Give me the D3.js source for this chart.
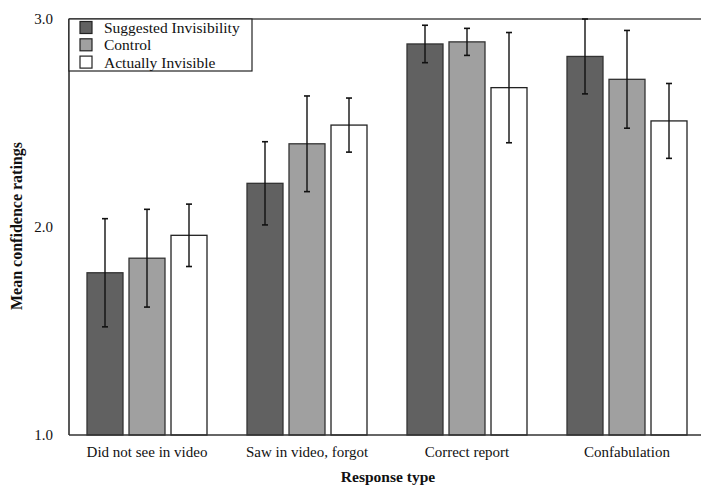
<!DOCTYPE html>
<html>
<head>
<meta charset="utf-8">
<script src="https://cdn.jsdelivr.net/npm/d3@7"></script>
<style>
  html, body { margin: 0; padding: 0; background: #fff; }
  svg text { font-family: "Liberation Serif", "Times New Roman", serif; fill: #111; }
</style>
</head>
<body>
<svg id="chart" width="701" height="486"></svg>
<script>
const categories = ["Did not see in video", "Saw in video, forgot", "Correct report", "Confabulation"];
const seriesNames = ["Suggested Invisibility", "Control", "Actually Invisible"];
const seriesColors = ["#616161", "#a0a0a0", "#ffffff"];
const suggestedMeans = [1.78, 2.21, 2.88, 2.82];
const suggestedErr   = [0.26, 0.20, 0.09, 0.18];
const controlMeans   = [1.85, 2.40, 2.89, 2.71];
const controlErr     = [0.235, 0.23, 0.065, 0.235];
const invisibleMeans = [1.96, 2.49, 2.67, 2.51];
const invisibleErr   = [0.15, 0.13, 0.265, 0.18];
const yTicks = [1.0, 2.0, 3.0];

(function () {
const means = [suggestedMeans, controlMeans, invisibleMeans];
const errs = [suggestedErr, controlErr, invisibleErr];

const svg = d3.select("#chart");
const pLeft = 69, pTop = 19, pBottom = 435;

const x0 = d3.scaleBand().domain(categories).range([67, 707]).paddingInner(0).paddingOuter(0);
const x1 = d3.scaleBand().domain(seriesNames).range([20, 140]).paddingInner(0.143);
const y = d3.scaleLinear().domain([1, 3]).range([pBottom, pTop]);

// top gray line
svg.append("line").attr("x1", pLeft).attr("x2", 701).attr("y1", pTop).attr("y2", pTop)
  .attr("stroke", "#777").attr("stroke-width", 2);

// bars
const data = [];
categories.forEach((c, i) => {
  seriesNames.forEach((s, j) => {
    data.push({ c, s, j, v: means[j][i], e: errs[j][i] });
  });
});

const strokes = ["#333", "#333", "#222"];
svg.append("g").selectAll("rect").data(data).join("rect")
  .attr("x", d => x0(d.c) + x1(d.s))
  .attr("width", x1.bandwidth())
  .attr("y", d => y(d.v))
  .attr("height", d => y(1) - y(d.v))
  .attr("fill", d => seriesColors[d.j])
  .attr("stroke", d => strokes[d.j])
  .attr("stroke-width", 1.3);

// error bars
const eb = svg.append("g").selectAll("g").data(data).join("g");
eb.append("line")
  .attr("x1", d => x0(d.c) + x1(d.s) + x1.bandwidth() / 2)
  .attr("x2", d => x0(d.c) + x1(d.s) + x1.bandwidth() / 2)
  .attr("y1", d => y(d.v + d.e))
  .attr("y2", d => y(d.v - d.e))
  .attr("stroke", "#111").attr("stroke-width", 1.4);
[1, -1].forEach(sign => {
  eb.append("line")
    .attr("x1", d => x0(d.c) + x1(d.s) + x1.bandwidth() / 2 - 3)
    .attr("x2", d => x0(d.c) + x1(d.s) + x1.bandwidth() / 2 + 3)
    .attr("y1", d => y(d.v + sign * d.e))
    .attr("y2", d => y(d.v + sign * d.e))
    .attr("stroke", "#111").attr("stroke-width", 1.6);
});

// axes lines
svg.append("line").attr("x1", pLeft).attr("x2", pLeft).attr("y1", pTop).attr("y2", pBottom)
  .attr("stroke", "#222").attr("stroke-width", 1.5);
svg.append("line").attr("x1", pLeft).attr("x2", 701).attr("y1", pBottom).attr("y2", pBottom)
  .attr("stroke", "#333").attr("stroke-width", 1.5);

// y tick labels
svg.append("g").selectAll("text").data(yTicks).join("text")
  .attr("x", 53).attr("y", d => y(d)).attr("dy", "0.35em")
  .attr("text-anchor", "end").style("font-size", "15px")
  .text(d => d.toFixed(1));

// x category labels
svg.append("g").selectAll("text").data(categories).join("text")
  .attr("x", d => x0(d) + x0.bandwidth() / 2).attr("y", 457)
  .attr("text-anchor", "middle").style("font-size", "15px")
  .text(d => d);

// axis titles
svg.append("text").attr("x", 388).attr("y", 482).attr("text-anchor", "middle")
  .style("font-size", "15.5px").style("font-weight", "bold").text("Response type");
svg.append("text").attr("transform", "translate(22,226) rotate(-90)").attr("text-anchor", "middle")
  .style("font-size", "16px").style("font-weight", "bold").text("Mean confidence ratings");

// legend
const lg = svg.append("g");
lg.append("rect").attr("x", pLeft).attr("y", pTop).attr("width", 183).attr("height", 52)
  .attr("fill", "#fff").attr("stroke", "#222").attr("stroke-width", 1.2);
seriesNames.forEach((s, j) => {
  const cy = 27.5 + j * 17.3;
  lg.append("rect").attr("x", 80).attr("y", cy - 6).attr("width", 12).attr("height", 12)
    .attr("fill", seriesColors[j]).attr("stroke", "#222").attr("stroke-width", 1.2);
  lg.append("text").attr("x", 104).attr("y", cy).attr("dy", "0.35em")
    .style("font-size", "15.5px").text(s);
});
})();
</script>
</body>
</html>
